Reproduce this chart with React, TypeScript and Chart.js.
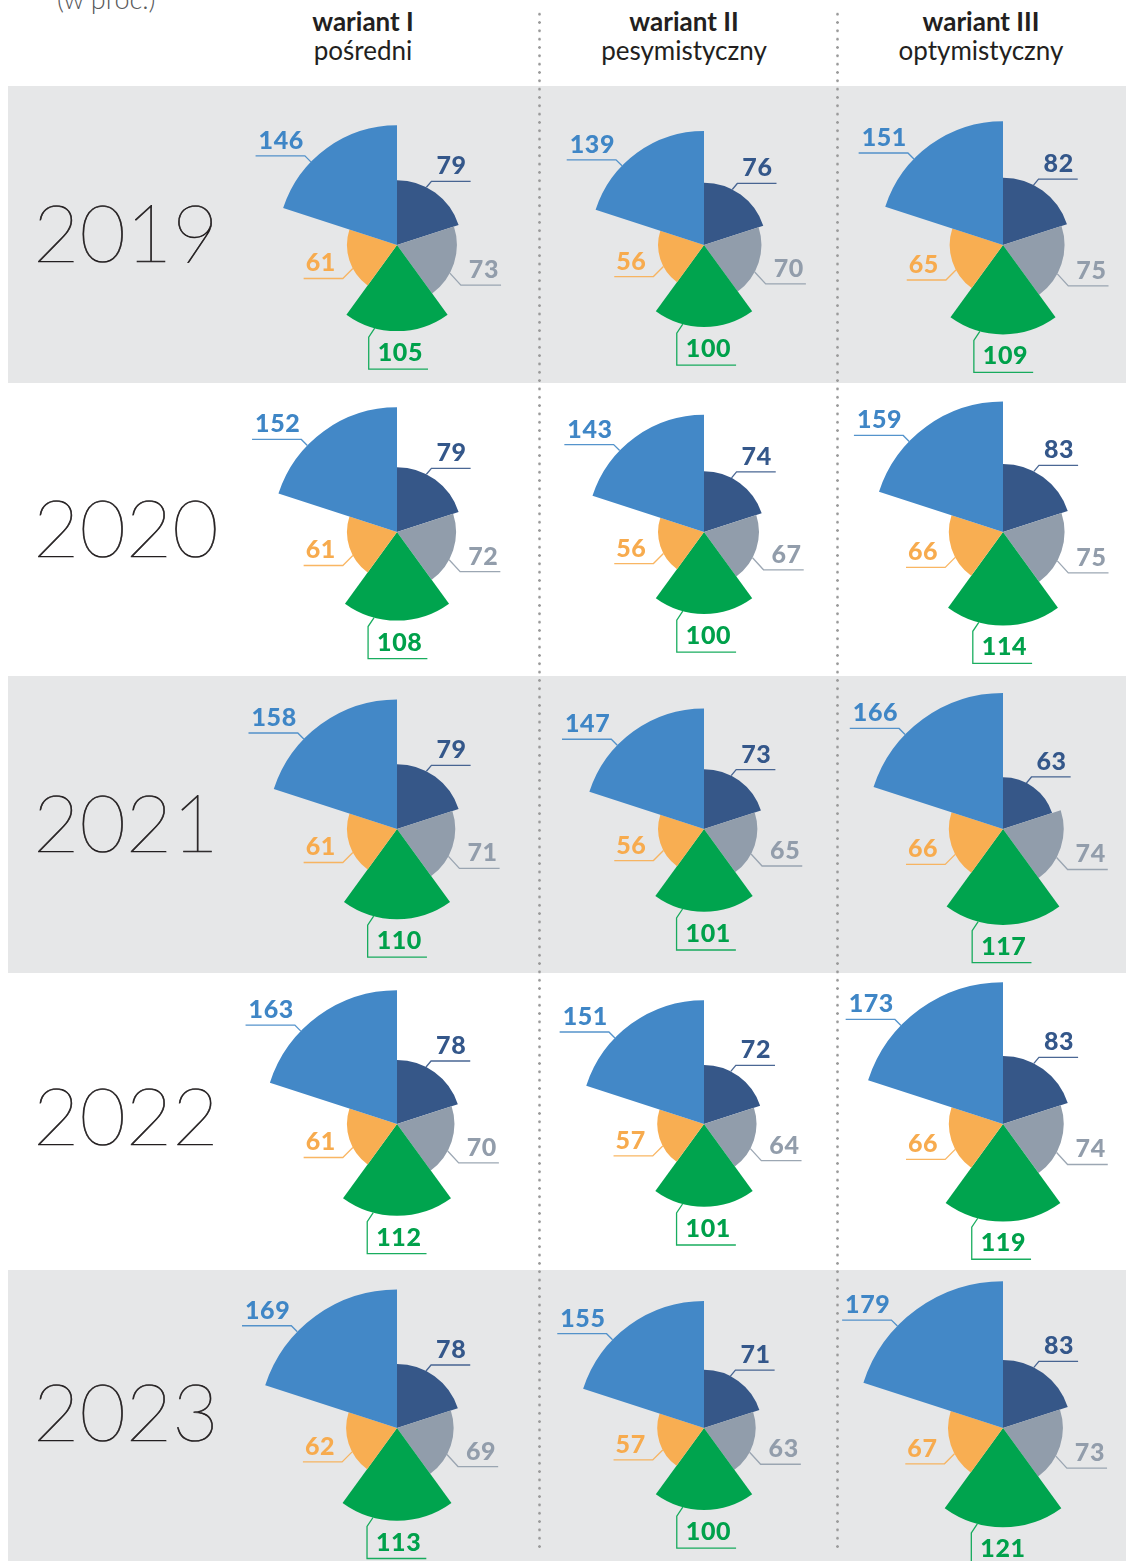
import React, { useEffect, useRef } from "react";
import { Chart, registerables } from "chart.js";

Chart.register(...registerables);

// ---------- DATA ----------
const UNIT_NOTE = "(w proc.)";
const YEARS = ["2019", "2020", "2021", "2022", "2023"];
const VARIANT_TITLES = ["wariant I", "wariant II", "wariant III"];
const VARIANT_SUBTITLES = ["pośredni", "pesymistyczny", "optymistyczny"];

// segments in clockwise order starting at 12 o'clock
const SEGMENT_LABELS = ["seg1", "seg2", "seg3", "seg4", "seg5"];

// rows = years (2019..2023), columns = variants (I, II, III)
const DARK_BLUE = [
  [79, 76, 82],
  [79, 74, 83],
  [79, 73, 63],
  [78, 72, 83],
  [78, 71, 83],
];
const GRAY = [
  [73, 70, 75],
  [72, 67, 75],
  [71, 65, 74],
  [70, 64, 74],
  [69, 63, 73],
];
const GREEN = [
  [105, 100, 109],
  [108, 100, 114],
  [110, 101, 117],
  [112, 101, 119],
  [113, 100, 121],
];
const ORANGE = [
  [61, 56, 65],
  [61, 56, 66],
  [61, 56, 66],
  [61, 57, 66],
  [62, 57, 67],
];
const LIGHT_BLUE = [
  [146, 139, 151],
  [152, 143, 159],
  [158, 147, 166],
  [163, 151, 173],
  [169, 155, 179],
];

// ---------- STYLE / LAYOUT ----------
const FILL_COLORS = ["#365788", "#919dab", "#00a44e", "#f8ae52", "#4388c7"];
const TEXT_COLORS = ["#34578a", "#929dab", "#00a14b", "#f7ab4e", "#3f86c6"];
const BAND_COLOR = "#e6e7e8";
const COL_X = [397, 704, 1003];
const ROW_Y = [245, 532, 829, 1124, 1428];
const BANDS = [86, 383, 676, 973, 1270, 1561];
const YEAR_BASELINE = [262, 557, 852, 1145, 1441];
const PX_PER_UNIT = 0.82;
const R_MAX = 250;
const CANVAS = Math.round(R_MAX * PX_PER_UNIT * 2); // 410
const LABEL_FONT = "900 25px Lato, 'Open Sans', sans-serif";
const LABEL_SPACING = "0.6px";

// label leader geometry per segment (angle clockwise from top, degrees)
type Spec = { angle: number; dx: number; dy: number; kind: "right" | "left" | "bottom"; off: number; pad: number };
const LABEL_SPECS: Spec[] = [
  { angle: 27, dx: 5, dy: -6, kind: "right", off: 5, pad: 9 },
  { angle: 118, dx: 11, dy: 12, kind: "right", off: 8, pad: 10 },
  { angle: 195, dx: -6, dy: 9, kind: "bottom", off: 9, pad: 14 },
  { angle: 242, dx: -10, dy: 10, kind: "left", off: 7, pad: 9 },
  { angle: 314, dx: -6, dy: -6, kind: "left", off: 1, pad: 4 },
];

const leaderLabelPlugin = {
  id: "leaderLabels",
  afterDatasetsDraw(chart: any) {
    const ctx: any = chart.ctx;
    const meta = chart.getDatasetMeta(0);
    const values = chart.data.datasets[0].data as number[];
    ctx.save();
    ctx.font = LABEL_FONT;
    if ("letterSpacing" in ctx) ctx.letterSpacing = LABEL_SPACING;
    ctx.textBaseline = "alphabetic";
    meta.data.forEach((arc: any, i: number) => {
      const { x, y, outerRadius } = arc.getProps(["x", "y", "outerRadius"], true);
      const s = LABEL_SPECS[i];
      const th = (s.angle * Math.PI) / 180;
      const px = x + outerRadius * Math.sin(th);
      const py = y - outerRadius * Math.cos(th);
      const qx = px + s.dx;
      const qy = py + s.dy;
      const text = String(values[i]);
      const tw = ctx.measureText(text).width;
      ctx.strokeStyle = FILL_COLORS[i];
      ctx.globalAlpha = 0.9;
      ctx.lineWidth = 1.3;
      ctx.beginPath();
      ctx.moveTo(px, py);
      ctx.lineTo(qx, qy);
      let tx = 0;
      let ty = 0;
      if (s.kind === "right") {
        ctx.lineTo(qx + tw + s.pad, qy);
        tx = qx + s.off;
        ty = qy - 7;
      } else if (s.kind === "left") {
        ctx.lineTo(qx - tw - s.pad, qy);
        tx = qx - s.off - tw;
        ty = qy - 7;
      } else {
        const by = qy + 32;
        ctx.lineTo(qx, by);
        ctx.lineTo(qx + tw + s.pad, by);
        tx = qx + s.off;
        ty = by - 8;
      }
      ctx.stroke();
      ctx.globalAlpha = 1;
      ctx.fillStyle = TEXT_COLORS[i];
      ctx.textAlign = "left";
      ctx.fillText(text, tx, ty);
    });
    ctx.restore();
  },
};

function PolarChart({ values, cx, cy }: { values: number[]; cx: number; cy: number }) {
  const ref = useRef<HTMLCanvasElement>(null);
  useEffect(() => {
    const chart = new Chart(ref.current as HTMLCanvasElement, {
      type: "polarArea",
      data: {
        labels: SEGMENT_LABELS,
        datasets: [
          {
            data: values,
            backgroundColor: FILL_COLORS,
            borderWidth: 0,
          },
        ],
      },
      options: {
        responsive: false,
        maintainAspectRatio: false,
        animation: false,
        events: [],
        layout: { padding: 0 },
        plugins: { legend: { display: false }, tooltip: { enabled: false } },
        scales: {
          r: {
            display: false,
            min: 0,
            max: R_MAX,
            startAngle: 0,
          },
        },
      },
      plugins: [leaderLabelPlugin],
    } as any);
    return () => chart.destroy();
  }, []);
  return (
    <canvas
      ref={ref}
      width={CANVAS}
      height={CANVAS}
      style={{ position: "absolute", left: cx - CANVAS / 2, top: cy - CANVAS / 2, width: CANVAS, height: CANVAS }}
    />
  );
}

const FONT = "Lato, 'Open Sans', sans-serif";

export default function App() {
  const headerText = (text: string, cx: number, baseline: number, weight: number, size: number, color: string) => (
    <div
      key={text + baseline}
      style={{
        position: "absolute",
        left: cx - 200,
        width: 400,
        textAlign: "center",
        top: baseline - size * 0.987,
        fontFamily: FONT,
        fontWeight: weight,
        fontSize: size,
        lineHeight: `${size * 1.2}px`,
        color,
        whiteSpace: "nowrap",
      }}
    >
      {text}
    </div>
  );
  const HEADER_X = [363, 684, 981];
  return (
    <div
      style={{
        position: "absolute",
        left: 0,
        top: 0,
        width: 1126,
        height: 1561,
        overflow: "hidden",
        background: "#ffffff",
      }}
    >
      {YEARS.map((_, r) =>
        r % 2 === 0 ? (
          <div
            key={"band" + r}
            style={{
              position: "absolute",
              left: 8,
              width: 1118,
              top: BANDS[r],
              height: BANDS[r + 1] - BANDS[r],
              background: BAND_COLOR,
            }}
          />
        ) : null
      )}
      {[538, 836].map((x) => (
        <div
          key={"dots" + x}
          style={{
            position: "absolute",
            left: x,
            width: 3,
            top: 10,
            height: 1538,
            backgroundImage: "radial-gradient(circle at center, #9b9b9b 1.05px, rgba(155,155,155,0) 1.6px)",
            backgroundSize: "3px 8.33px",
            zIndex: 2,
          }}
        />
      ))}
      <div
        style={{
          position: "absolute",
          left: 57,
          top: 10 - 27 * 0.987,
          fontFamily: FONT,
          fontWeight: 300,
          fontSize: 27,
          lineHeight: `${27 * 1.2}px`,
          color: "#58595b",
          whiteSpace: "nowrap",
        }}
      >
        {UNIT_NOTE}
      </div>
      {VARIANT_TITLES.map((t, c) => headerText(t, HEADER_X[c], 32, 700, 26, "#231f20"))}
      {VARIANT_SUBTITLES.map((t, c) => headerText(t, HEADER_X[c], 61, 400, 26, "#231f20"))}
      {YEARS.map((y, r) => (
        <div
          key={"year" + y}
          style={{
            position: "absolute",
            left: 33,
            top: YEAR_BASELINE[r] - 80 * 0.987,
            fontFamily: FONT,
            fontWeight: 100,
            fontSize: 80,
            lineHeight: "96px",
            color: "#231f20",
            whiteSpace: "nowrap",
            WebkitTextStroke: "0.7px #231f20",
          }}
        >
          {y}
        </div>
      ))}
      {YEARS.map((y, r) =>
        VARIANT_TITLES.map((_, c) => (
          <PolarChart
            key={y + "-" + c}
            cx={COL_X[c]}
            cy={ROW_Y[r]}
            values={[DARK_BLUE[r][c], GRAY[r][c], GREEN[r][c], ORANGE[r][c], LIGHT_BLUE[r][c]]}
          />
        ))
      )}
    </div>
  );
}
